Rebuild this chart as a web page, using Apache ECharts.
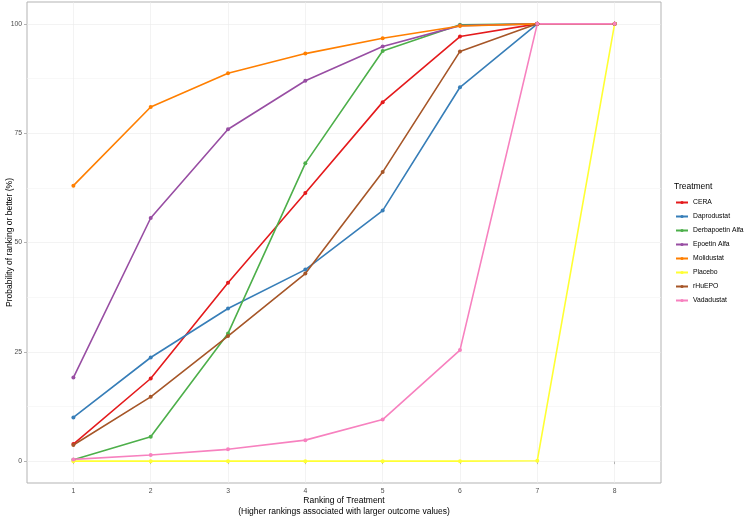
<!DOCTYPE html>
<html>
<head>
<meta charset="utf-8">
<script src="https://cdn.jsdelivr.net/npm/echarts@6/dist/echarts.min.js"></script>
<style>html,body{margin:0;padding:0;background:#fff;}#c{width:744px;height:516px;}</style>
</head>
<body>
<div id="c"></div>
<script>
var ranks = [1, 2, 3, 4, 5, 6, 7, 8];
var yTicks = [0, 25, 50, 75, 100];
var minorY = [12.5, 37.5, 62.5, 87.5];
var treatments = ["CERA", "Daprodustat", "Derbapoetin Alfa", "Epoetin Alfa", "Molidustat", "Placebo", "rHuEPO", "Vadadustat"];
var colors = ["#E41A1C", "#377EB8", "#4DAF4A", "#984EA3", "#FF7F00", "#FFFF33", "#A65628", "#F781BF"];
var cera = [3.9, 18.9, 40.8, 61.3, 82.1, 97.1, 100, 100];
var daprodustat = [10.0, 23.7, 34.9, 43.8, 57.3, 85.5, 100, 100];
var derbapoetin = [0.3, 5.6, 29.2, 68.1, 93.8, 99.8, 100, 100];
var epoetin = [19.1, 55.6, 75.9, 87.0, 94.8, 99.6, 100, 100];
var molidustat = [63.0, 81.0, 88.7, 93.2, 96.7, 99.5, 100, 100];
var placebo = [0, 0, 0, 0, 0, 0, 0.1, 100];
var rhuepo = [3.7, 14.7, 28.6, 42.9, 66.1, 93.7, 100, 100];
var vadadustat = [0.4, 1.4, 2.7, 4.8, 9.5, 25.4, 100, 100];
var values = [cera, daprodustat, derbapoetin, epoetin, molidustat, placebo, rhuepo, vadadustat];

var font = "Liberation Sans, Arial, sans-serif";
var series = treatments.map(function (name, i) {
  return {
    name: name,
    type: 'line',
    data: ranks.map(function (r, j) { return [r, values[i][j]]; }),
    symbol: 'circle',
    symbolSize: 4,
    lineStyle: { width: 1.6, color: colors[i] },
    itemStyle: { color: colors[i] },
    emphasis: { disabled: true },
    animation: false,
    z: 3
  };
});

var chart = echarts.init(document.getElementById('c'), null, { renderer: 'canvas' });
chart.setOption({
  backgroundColor: '#ffffff',
  animation: false,
  textStyle: { fontFamily: font },
  grid: { left: 27, right: 83, top: 2, bottom: 33, show: true, borderColor: '#b3b3b3', borderWidth: 1, containLabel: false, outerBoundsMode: 'none' },
  xAxis: {
    type: 'value', min: 0.4, max: 8.6,
    axisLine: { show: false },
    axisTick: { show: true, length: 3, lineStyle: { color: '#b3b3b3' }, customValues: ranks },
    axisLabel: { color: '#4d4d4d', fontSize: 6.8, margin: 5, fontFamily: font, customValues: ranks },
    splitLine: { show: true, lineStyle: { color: '#ebebeb', width: 0.6 } },
    name: 'Ranking of Treatment\n(Higher rankings associated with larger outcome values)',
    nameLocation: 'middle', nameGap: 12, nameMoveOverlap: false,
    nameTextStyle: { color: '#000', fontSize: 8.5, lineHeight: 11, fontFamily: font, verticalAlign: 'top' }
  },
  yAxis: [{
    type: 'value', min: -5, max: 105,
    axisLine: { show: false },
    axisTick: { show: true, length: 3, lineStyle: { color: '#b3b3b3' }, customValues: yTicks },
    axisLabel: { color: '#4d4d4d', fontSize: 6.8, margin: 5, fontFamily: font, customValues: yTicks },
    splitLine: { show: true, lineStyle: { color: '#ebebeb', width: 0.6 } },
    name: 'Probability of ranking or better (%)',
    nameLocation: 'middle', nameGap: 13, nameRotate: 90, nameMoveOverlap: false,
    nameTextStyle: { color: '#000', fontSize: 8.5, fontFamily: font },
    z: 1
  }, {
    type: 'value', min: -5, max: 105, position: 'left',
    axisLine: { show: false },
    axisTick: { show: false, customValues: minorY },
    axisLabel: { show: false, customValues: minorY },
    splitLine: { show: true, lineStyle: { color: '#f4f4f4', width: 0.6 } },
    z: 0
  }],
  legend: {
    orient: 'vertical', left: 675, top: 198, padding: 0,
    data: treatments,
    itemWidth: 12, itemHeight: 4, itemGap: 5,
    textStyle: { fontSize: 6.8, lineHeight: 9, color: '#000', fontFamily: font },
    selectedMode: false
  },
  graphic: [{
    type: 'text', left: 674, top: 182,
    style: { text: 'Treatment', fontSize: 8.5, fill: '#000', fontFamily: font }
  }],
  series: series
});
</script>
</body>
</html>
